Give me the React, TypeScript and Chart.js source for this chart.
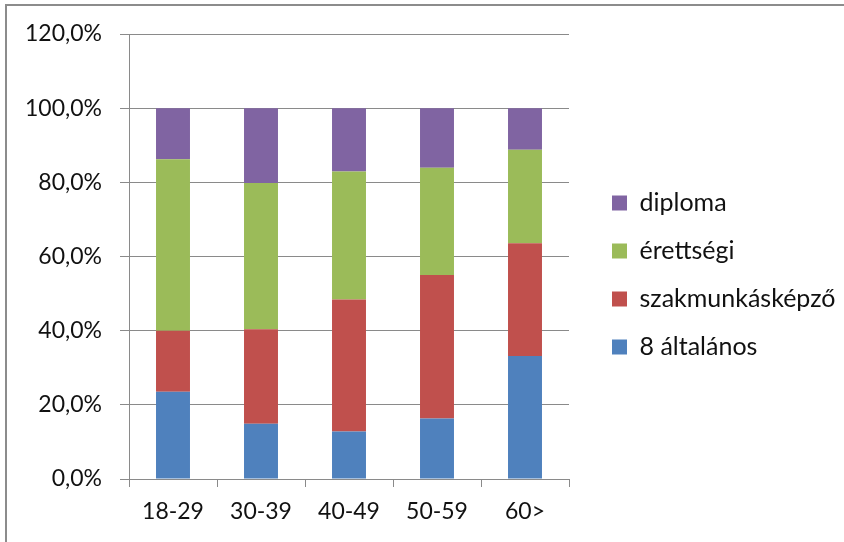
import React, { useEffect, useRef } from "react";
import { Chart, registerables } from "chart.js";

Chart.register(...registerables);

const categories = ["18-29", "30-39", "40-49", "50-59", "60>"];
const altalanos = [23.5, 14.9, 12.8, 16.3, 33.2];
const szakmunkas = [16.5, 25.5, 35.6, 38.7, 30.4];
const erettsegi = [46.2, 39.4, 34.5, 28.9, 25.2];
const diploma = [13.8, 20.2, 17.1, 16.1, 11.2];
const seriesNames = ["8 általános", "szakmunkásképző", "érettségi", "diploma"];
const seriesColors = ["#4F81BD", "#C0504D", "#9BBB59", "#8064A2"];
const yMin = 0;
const yMax = 120;
const yStep = 20;

const FONT = "Lato, 'Open Sans', sans-serif";
const GRID = "#8a8a8a";
const TEXT = "#111111";

const legendPlacement = {
  id: "legendPlacement",
  beforeLayout(chart: any) {
    const lg = chart.legend;
    if (lg && !lg.__patched) {
      const orig = lg.fit.bind(lg);
      lg.fit = function () {
        orig();
        this.width = 275;
      };
      lg.__patched = true;
    }
  },
  afterLayout(chart: any) {
    const lg = chart.legend;
    if (lg) {
      lg.left += 20;
      lg.right += 20;
      lg.top -= 13;
      lg.bottom -= 13;
    }
  },
};

export default function App() {
  const canvasRef = useRef<HTMLCanvasElement | null>(null);

  useEffect(() => {
    document.body.style.margin = "0";
    const canvas = canvasRef.current;
    if (!canvas) return;
    const values = [altalanos, szakmunkas, erettsegi, diploma];
    const chart = new Chart(canvas, {
      type: "bar",
      data: {
        labels: categories,
        datasets: values.map((v, i) => ({
          label: seriesNames[i],
          data: v,
          backgroundColor: seriesColors[i],
          borderWidth: 0,
          categoryPercentage: 1,
          barPercentage: 0.386,
        })),
      },
      plugins: [legendPlacement],
      options: {
        animation: false,
        responsive: false,
        maintainAspectRatio: false,
        devicePixelRatio: 1,
        layout: { padding: { top: 34, left: 0, right: 0, bottom: 0 } },
        plugins: {
          tooltip: { enabled: false },
          legend: {
            position: "right",
            reverse: true,
            align: "center",
            labels: {
              boxWidth: 15,
              boxHeight: 15,
              padding: 23,
              color: TEXT,
              font: { family: FONT, size: 25 },
            },
          },
        },
        scales: {
          x: {
            stacked: true,
            grid: {
              offset: true,
              drawOnChartArea: false,
              drawTicks: true,
              tickLength: 8,
              color: GRID,
            },
            border: { color: GRID, width: 1 },
            ticks: {
              color: TEXT,
              padding: 11,
              font: { family: FONT, size: 23 },
              maxRotation: 0,
              autoSkip: false,
            },
            afterFit(scale: any) {
              scale.height = 63;
            },
          },
          y: {
            stacked: true,
            min: yMin,
            max: yMax,
            grid: {
              color: GRID,
              tickLength: 9,
              drawTicks: true,
            },
            border: { color: GRID, width: 1 },
            ticks: {
              stepSize: yStep,
              color: TEXT,
              padding: 18,
              font: { family: FONT, size: 23 },
              callback: (v: any) => Number(v).toFixed(1).replace(".", ",") + "%",
            },
            afterFit(scale: any) {
              scale.width = 129;
            },
          },
        },
      },
    });
    return () => chart.destroy();
  }, []);

  return (
    <div
      style={{
        position: "relative",
        width: 844,
        height: 542,
        overflow: "hidden",
        background: "#fff",
      }}
    >
      <div
        style={{
          position: "absolute",
          left: 5,
          top: 4,
          width: 900,
          height: 600,
          borderLeft: "2px solid #8c8c8c",
          borderTop: "2px solid #8c8c8c",
        }}
      />
      <canvas
        ref={canvasRef}
        width={844}
        height={542}
        style={{ position: "absolute", left: 0, top: 0, width: 844, height: 542 }}
      />
    </div>
  );
}
